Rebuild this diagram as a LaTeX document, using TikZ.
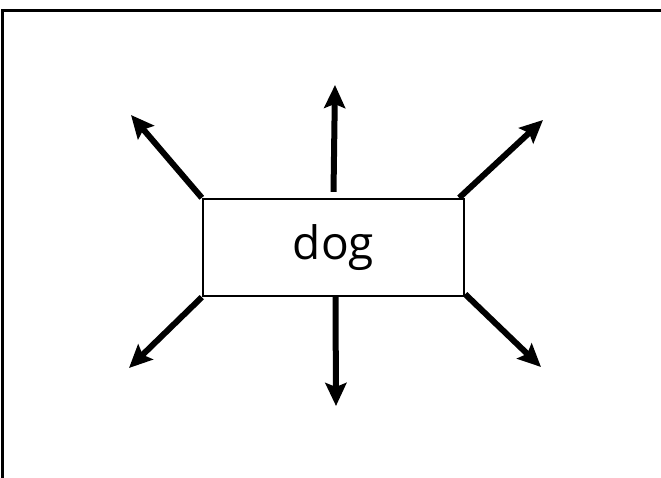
\documentclass[tikz,border=0pt]{standalone}
\usepackage{fontspec}
\setmainfont{Open Sans}
\usetikzlibrary{arrows.meta}
\tikzset{
  arr/.style={line width=6pt, -{Stealth[length=23pt,width=21pt,inset=4pt]}},
  animal/.style={draw, line width=2.4pt, minimum width=261pt, minimum height=97pt,
    inner sep=0pt, font=\fontsize{46}{52}\selectfont}
}
\begin{document}
\begin{tikzpicture}[x=1pt, y=-1pt]
            \clip (0,0) rectangle (661,478);
            \draw[line width=3pt] (2.5,600) -- (2.5,10.5) -- (700,10.5);
            \node[animal] (dog) at (333.5,247.5) {dog};
            \coordinate (n) at (335,85);
            \coordinate (nw) at (131,115);
            \coordinate (ne) at (543,120);
            \coordinate (sw) at (129,368);
            \coordinate (s) at (336,406);
            \coordinate (se) at (541,367);
            \draw[arr] ([yshift=6pt]dog.north) -- (n);
            \draw[arr] (dog.north west) -- (nw);
            \draw[arr] ([xshift=-6pt]dog.north east) -- (ne);
            \draw[arr] (dog.south west) -- (sw);
            \draw[arr] ([xshift=2pt]dog.south) -- (s);
            \draw[arr] ([yshift=3pt]dog.south east) -- (se);
        \end{tikzpicture}
\end{document}
